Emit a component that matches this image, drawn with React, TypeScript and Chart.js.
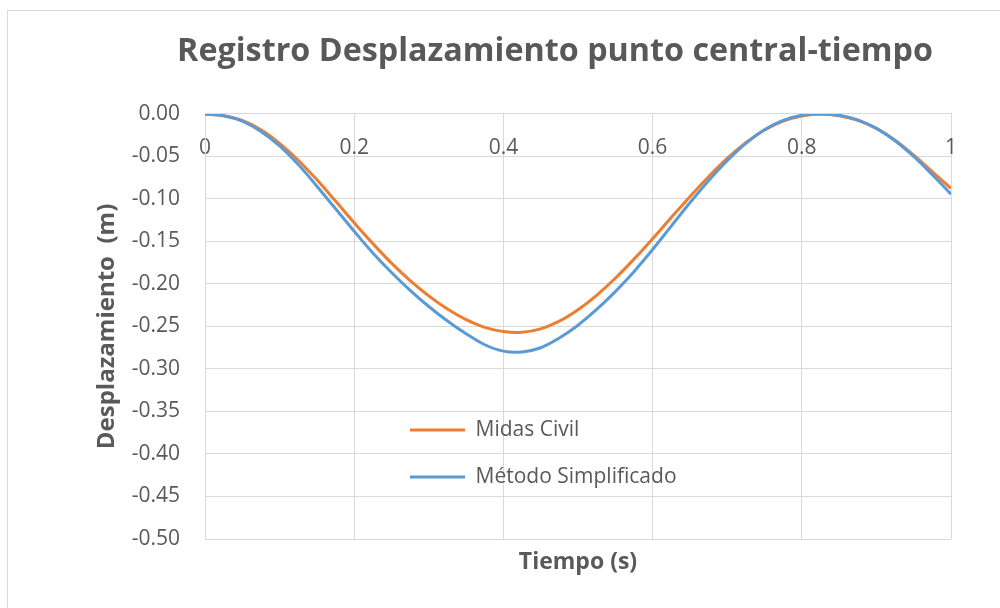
import React, { useEffect, useRef } from "react";
import { Chart, registerables } from "chart.js";

Chart.register(...registerables);

// ---- Data ----
const chartTitle = "Registro Desplazamiento punto central-tiempo";
const xAxisTitle = "Tiempo (s)";
const yAxisTitle = "Desplazamiento  (m)";
const seriesNames = ["Midas Civil", "Método Simplificado"];

const times = [
  0, 0.025, 0.05, 0.075, 0.1, 0.125, 0.15, 0.175, 0.2, 0.225,
  0.25, 0.275, 0.3, 0.325, 0.35, 0.375, 0.4, 0.425, 0.45, 0.475,
  0.5, 0.525, 0.55, 0.575, 0.6, 0.625, 0.65, 0.675, 0.7, 0.725,
  0.75, 0.775, 0.8, 0.825, 0.85, 0.875, 0.9, 0.925, 0.95, 0.975, 1,
];

const midasCivil = [
  0, -0.002, -0.0075, -0.0185, -0.0345, -0.0545, -0.0775, -0.1025, -0.128, -0.1525,
  -0.1755, -0.196, -0.214, -0.2295, -0.242, -0.251, -0.256, -0.2568, -0.2528, -0.2438,
  -0.2303, -0.2133, -0.1933, -0.1708, -0.1468, -0.1218, -0.0973, -0.0738, -0.0523, -0.0338,
  -0.0188, -0.0083, -0.0023, 0, -0.002, -0.0075, -0.017, -0.031, -0.0485, -0.068, -0.0875,
];

const metodoSimplificado = [
  0, -0.002, -0.0085, -0.0205, -0.0375, -0.0595, -0.085, -0.1115, -0.138, -0.1635,
  -0.1865, -0.2075, -0.2265, -0.2435, -0.2585, -0.2715, -0.279, -0.28, -0.275, -0.2635,
  -0.2485, -0.23, -0.209, -0.1855, -0.1595, -0.132, -0.1045, -0.0785, -0.055, -0.0345,
  -0.0185, -0.0075, -0.0015, 0, -0.0015, -0.007, -0.017, -0.0315, -0.05, -0.0715, -0.0945,
];

const xMin = 0;
const xMax = 1;
const xStep = 0.2;
const yMin = -0.5;
const yMax = 0;
const yStep = 0.05;

// ---- Styles ----
const FONT = "'Open Sans', 'Noto Sans', sans-serif";
const TEXT = "#595959";
const GRID = "#d9d9d9";
const ORANGE = "#ED7D31";
const BLUE = "#5B9BD5";

const CANVAS_W = 1094;
const CANVAS_H = 597;

const legendPlacer = {
  id: "legendPlacer",
  afterLayout(chart: any) {
    const lg = chart.legend;
    if (!lg) return;
    const left = 376;
    const top = 382.5;
    lg.left = left;
    lg.top = top;
    lg.width = 420;
    lg.height = 140;
    lg.right = left + 420;
    lg.bottom = top + 140;
  },
};

export default function App() {
  const ref = useRef<HTMLCanvasElement>(null);

  useEffect(() => {
    let chart: Chart | null = null;
    let cancelled = false;

    const make = () => {
      if (cancelled || !ref.current) return;
      chart = new Chart(ref.current, {
        type: "line",
        data: {
          datasets: [
            {
              label: seriesNames[0],
              data: times.map((t, i) => ({ x: t, y: midasCivil[i] })),
              borderColor: ORANGE,
              backgroundColor: ORANGE,
              borderWidth: 3,
              pointRadius: 0,
              tension: 0.4,
              fill: false,
              order: 2,
              xAxisID: "x",
              yAxisID: "y",
            },
            {
              label: seriesNames[1],
              data: times.map((t, i) => ({ x: t, y: metodoSimplificado[i] })),
              borderColor: BLUE,
              backgroundColor: BLUE,
              borderWidth: 3,
              pointRadius: 0,
              tension: 0.4,
              fill: false,
              order: 1,
              xAxisID: "x",
              yAxisID: "y",
            },
          ],
        },
        options: {
          responsive: false,
          animation: false,
          layout: { padding: 0 },
          plugins: {
            title: {
              display: true,
              text: chartTitle,
              color: TEXT,
              font: { family: FONT, size: 32.3, weight: "bold" },
              padding: { top: 21.6, bottom: 42.6 },
            },
            legend: {
              display: true,
              position: "chartArea" as any,
              align: "start",
              labels: {
                usePointStyle: true,
                pointStyle: "line",
                pointStyleWidth: 55,
                padding: 26,
                color: TEXT,
                font: { family: FONT, size: 21 },
                sort: (a: any, b: any) => a.datasetIndex - b.datasetIndex,
              },
            },
            tooltip: { enabled: false },
          },
          scales: {
            x: {
              type: "linear",
              position: { y: 0 } as any,
              min: xMin,
              max: xMax,
              ticks: {
                stepSize: xStep,
                padding: 21.4,
                color: TEXT,
                font: { family: FONT, size: 21 },
                maxRotation: 0,
                autoSkip: false,
                callback: (v: any) => String(Math.round(Number(v) * 10) / 10),
              },
              grid: { color: GRID, lineWidth: 1, drawTicks: false },
              border: { display: true, color: GRID },
            },
            x2: {
              type: "linear",
              position: "bottom",
              min: xMin,
              max: xMax,
              ticks: { display: false },
              grid: { display: false, drawTicks: false },
              border: { display: false },
              title: {
                display: true,
                text: xAxisTitle,
                color: TEXT,
                font: { family: FONT, size: 23, weight: "bold" },
                padding: { top: 9.2, bottom: 32.2 },
              },
            },
            y: {
              type: "linear",
              position: "left",
              min: yMin,
              max: yMax,
              ticks: {
                stepSize: yStep,
                padding: 25,
                color: TEXT,
                font: { family: FONT, size: 21 },
                callback: (v: any) => Number(v).toFixed(2),
              },
              grid: { color: GRID, lineWidth: 1, drawTicks: false },
              border: { display: true, color: GRID },
              title: {
                display: true,
                text: yAxisTitle,
                color: TEXT,
                font: { family: FONT, size: 24, weight: "bold" },
                padding: { top: 84.6, bottom: 4 },
              },
              afterFit: (s: any) => {
                s.width = 197;
              },
            },
            y2: {
              type: "linear",
              position: "right",
              display: true,
              ticks: { display: false },
              grid: { display: false, drawTicks: false },
              border: { display: false },
              afterFit: (s: any) => {
                s.width = 151;
              },
            },
          },
        },
        plugins: [legendPlacer],
      } as any);
    };

    const fonts: any = (document as any).fonts;
    if (fonts && fonts.load) {
      Promise.all([
        fonts.load(`bold 32px 'Open Sans'`),
        fonts.load(`21px 'Open Sans'`),
      ]).then(make, make);
    } else {
      make();
    }

    return () => {
      cancelled = true;
      if (chart) chart.destroy();
    };
  }, []);

  return (
    <div
      style={{
        position: "absolute",
        left: 0,
        top: 0,
        width: 1000,
        height: 608,
        overflow: "hidden",
        background: "#ffffff",
      }}
    >
      <div
        style={{
          position: "absolute",
          left: 7,
          top: 10,
          width: CANVAS_W + 1,
          height: CANVAS_H + 1,
          boxSizing: "border-box",
          borderTop: `1px solid ${GRID}`,
          borderLeft: `1px solid ${GRID}`,
        }}
      >
        <canvas
          ref={ref}
          width={CANVAS_W}
          height={CANVAS_H}
          style={{ display: "block", width: CANVAS_W, height: CANVAS_H }}
        />
      </div>
    </div>
  );
}
